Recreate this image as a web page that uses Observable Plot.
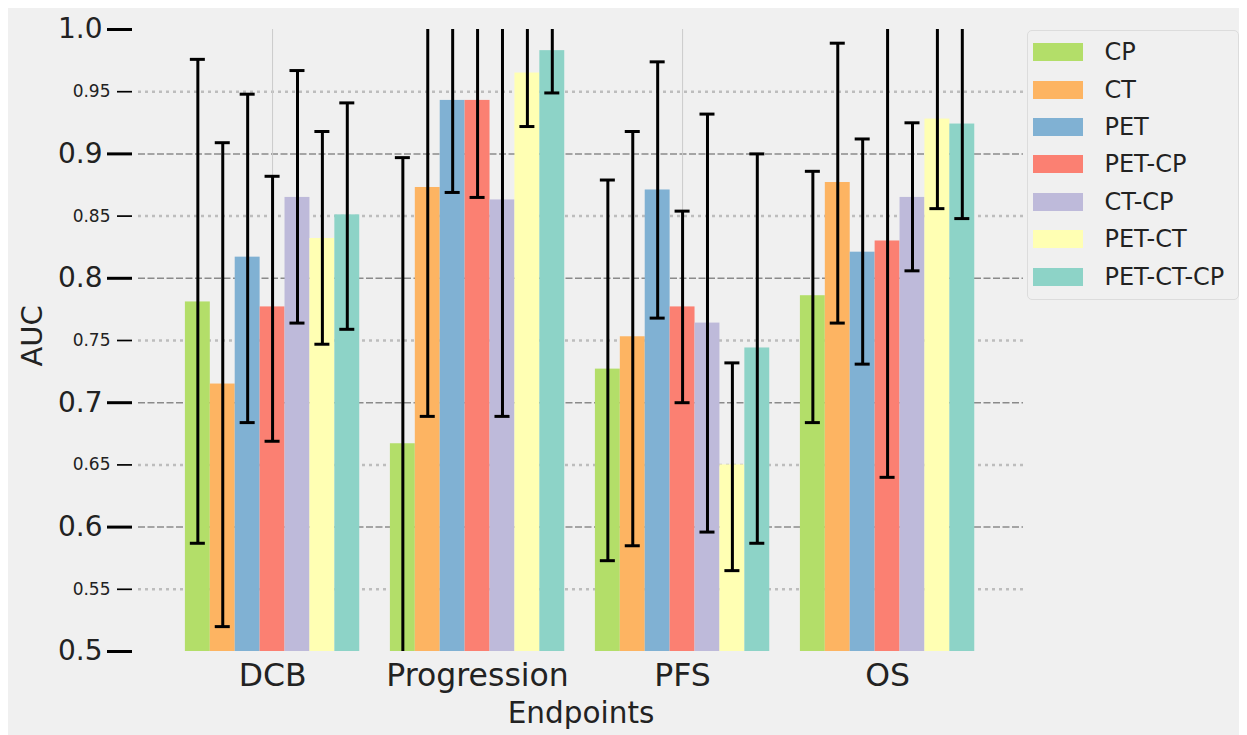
<!DOCTYPE html>
<html><head><meta charset="utf-8">
<script src="https://cdn.jsdelivr.net/npm/d3@7"></script>
<script src="https://cdn.jsdelivr.net/npm/@observablehq/plot@0.6"></script>
<style>
body { margin: 8px; background: #fff; }
#wrap { position: relative; width: 1247px; height: 735px; }
#legend { position: absolute; left: 1018.7px; top: 22px; width: 212px; height: 270px; box-sizing: border-box;
  border: 1.5px solid #dcdcdc; border-radius: 5px; background: #f0f0f0; padding-top: 2.5px;
  font-family: "DejaVu Sans"; font-size: 24px; color: #222; }
#legend .row { height: 37.4px; display: flex; align-items: center; }
#legend .sw { width: 50px; height: 18px; margin-left: 5.8px; margin-right: 21px; flex: none; }
</style></head>
<body><div id="wrap"></div>
<script>
const endpoints = ["DCB", "Progression", "PFS", "OS"];
const series = ["CP", "CT", "PET", "PET-CP", "CT-CP", "PET-CT", "PET-CT-CP"];
const colors = ["#b3de69", "#fdb462", "#80b1d3", "#fb8072", "#bebada", "#ffffb3", "#8dd3c7"];
// AUC per series (rows) for each endpoint (columns)
const aucValues = [
  [0.781, 0.667, 0.727, 0.786],
  [0.715, 0.873, 0.753, 0.877],
  [0.817, 0.943, 0.871, 0.821],
  [0.777, 0.943, 0.777, 0.830],
  [0.865, 0.863, 0.764, 0.865],
  [0.832, 0.965, 0.650, 0.928],
  [0.851, 0.983, 0.744, 0.924]
];
const ciLower = [
  [0.587, 0.437, 0.573, 0.684],
  [0.520, 0.689, 0.585, 0.764],
  [0.684, 0.869, 0.768, 0.731],
  [0.669, 0.865, 0.700, 0.640],
  [0.764, 0.689, 0.596, 0.806],
  [0.747, 0.922, 0.565, 0.856],
  [0.759, 0.949, 0.587, 0.848]
];
const ciUpper = [
  [0.976, 0.897, 0.879, 0.886],
  [0.909, 1.057, 0.918, 0.989],
  [0.948, 1.017, 0.974, 0.912],
  [0.882, 1.021, 0.854, 1.020],
  [0.967, 1.037, 0.932, 0.925],
  [0.918, 1.008, 0.732, 1.010],
  [0.941, 1.017, 0.900, 1.010]
];
const yDomain = [0.5, 1.0];
const majorTicks = [0.5, 0.6, 0.7, 0.8, 0.9, 1.0];
const majorGrid = [0.6, 0.7, 0.8, 0.9];
const minorTicks = [0.55, 0.65, 0.75, 0.85, 0.95];

const rows = [];
endpoints.forEach((e, gi) => series.forEach((s, si) => rows.push({
  endpoint: e, series: s, gi, si,
  value: aucValues[si][gi], lo: ciLower[si][gi], hi: ciUpper[si][gi]
})));

const w = 0.1215;      // bar width in group units
const cap = 0.0366;    // half cap width in group units
const barX = d => d.gi + (d.si - 3) * w;

const chart = Plot.plot({
  width: 1247, height: 735,
  marginLeft: 130, marginRight: 232, marginTop: 21, marginBottom: 92,
  x: {domain: [-0.654, 3.663], axis: null},
  y: {domain: yDomain, axis: null},
  color: {domain: series, range: colors},
  style: {background: "#f0f0f0", fontFamily: "DejaVu Sans", color: "#222", overflow: "visible"},
  marks: [
    Plot.gridY({ticks: minorTicks, stroke: "#bdbdbd", strokeOpacity: 1, strokeWidth: 2.5, strokeDasharray: "3,4"}),
    Plot.gridY({ticks: majorGrid, stroke: "#8a8a8a", strokeOpacity: 1, strokeWidth: 1.5, strokeDasharray: "7,2.5"}),
    Plot.gridX({ticks: [0, 1, 2, 3], stroke: "#cbcbcb", strokeOpacity: 1, strokeWidth: 1}),
    Plot.rectY(rows, {x1: d => barX(d) - w / 2, x2: d => barX(d) + w / 2, y1: yDomain[0], y2: "value", fill: "series"}),
    Plot.ruleX(rows, {x: barX, y1: "lo", y2: "hi", stroke: "#000", strokeWidth: 3, clip: true}),
    Plot.ruleY(rows, {y: "lo", x1: d => barX(d) - cap, x2: d => barX(d) + cap, stroke: "#000", strokeWidth: 3, clip: true}),
    Plot.ruleY(rows, {y: "hi", x1: d => barX(d) - cap, x2: d => barX(d) + cap, stroke: "#000", strokeWidth: 3, clip: true}),
    Plot.axisY({ticks: majorTicks, tickSize: 25, tickPadding: 5, dx: -6, fontSize: 28, stroke: "#000", strokeWidth: 3, label: null, tickFormat: d => d.toFixed(1)}),
    Plot.axisY({ticks: minorTicks, tickSize: 15, tickPadding: 7, dx: -6, fontSize: 17, stroke: "#000", strokeWidth: 1.7, label: null, tickFormat: d => d.toFixed(2)}),
    Plot.axisX({ticks: [0, 1, 2, 3], tickFormat: i => endpoints[i], tickSize: 0, tickPadding: 12, fontSize: 31.5, label: null}),
    Plot.text(["Endpoints"], {frameAnchor: "bottom", dy: 71, fontSize: 29.5, fill: "#222"}),
    Plot.text(["AUC"], {frameAnchor: "left", rotate: -90, dx: -106, dy: 26, fontSize: 29, fill: "#222"})
  ]
});
const wrap = document.getElementById("wrap");
wrap.appendChild(chart);

const legend = document.createElement("div");
legend.id = "legend";
series.forEach((s, i) => {
  const row = document.createElement("div");
  row.className = "row";
  const sw = document.createElement("span");
  sw.className = "sw";
  sw.style.background = colors[i];
  const label = document.createElement("span");
  label.textContent = s;
  row.appendChild(sw);
  row.appendChild(label);
  legend.appendChild(row);
});
wrap.appendChild(legend);
</script></body></html>
